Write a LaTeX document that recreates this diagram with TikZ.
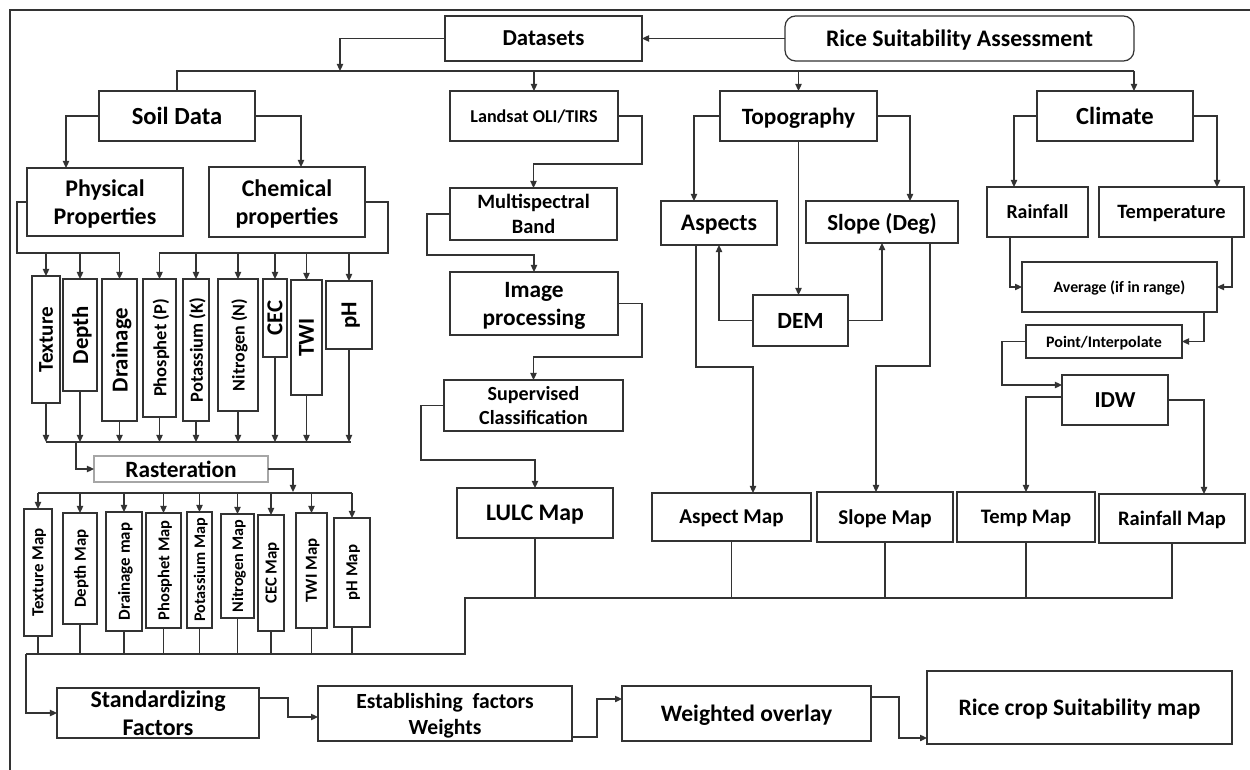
\documentclass[tikz,border=0pt]{standalone}
\usepackage{fontspec}
\setmainfont{Carlito}
\usetikzlibrary{arrows.meta,calc}
\tikzset{
  box/.style={draw=black!80,line width=0.7pt,inner sep=0pt,outer sep=0pt,text=black,text depth=0pt},
  arr/.style={-{Triangle[length=4pt,width=3.6pt]}},
  conn/.style={draw=black!80,line width=0.7pt},
  fs/.style={font=\fontsize{#1pt}{\dimexpr #1pt*6/5\relax}\selectfont\bfseries},
}
% #1 opts, #2 name, #3 x1, #4 y1, #5 x2, #6 y2, #7 text
\newcommand\bx[7][]{%
  \node[box,#1,minimum width={(#5-#3)*0.56906pt},minimum height={(#6-#4)*0.56906pt}]
    (#2) at ({(#3+#5)/2},{(#4+#6)/2}) {#7};}
\newcommand\vb[7][]{%
  \node[box,minimum width={(#5-#3)*0.56906pt},minimum height={(#6-#4)*0.56906pt}]
    (#2) at ({(#3+#5)/2},{(#4+#6)/2}) {};
  \node[rotate=90,inner sep=0pt,text depth=0pt,#1] (#2t) at (#2.center) {#7};}
\begin{document}
\begin{tikzpicture}[x=0.02cm,y=-0.02cm]
\useasboundingbox (0,0) rectangle (1250,770);
\fill[white] (0,0) rectangle (1250,770);
\draw[conn] (10,770) -- (10,10) -- (1250,10);

% top
\bx[fs=13]{ds}{445}{16}{642}{61}{Datasets}
\bx[fs=13.5,rounded corners=6pt]{rsa}{785}{16}{1134}{61}{Rice Suitability Assessment}
\draw[conn,arr] (rsa.west) -- (ds.east);
\coordinate (bT) at (340,71);
\coordinate (bR) at (1134,71);
\draw[conn,arr] (ds.west) -| (bT);

% level 1
\bx[fs=14]{soil}{99}{91}{255}{141}{Soil Data}
\bx[fs=10.3]{land}{450}{91}{618}{141}{Landsat OLI/TIRS}
\bx[fs=13.3]{topo}{720}{91}{877}{141}{Topography}
\bx[fs=14]{clim}{1037}{91}{1193}{141}{Climate}
\draw[conn] (soil.north) |- (bR);
\draw[conn,arr] (land.north |- bR) -- (land.north);
\draw[conn,arr] (topo.north |- bR) -- (topo.north);
\draw[conn,arr] (bR) -- (bR |- clim.north);

% soil
\bx[fs=13.6,align=center]{phys}{27}{168}{183}{236}{Physical\\Properties}
\bx[fs=13.6,align=center]{chem}{209}{167}{365}{237}{Chemical\\properties}
\draw[conn,arr] (soil.west) -| (66,0 |- phys.north);
\draw[conn,arr] (soil.east) -| (301,0 |- chem.north);

\vb[fs=12]{tex}{32}{276}{60}{403}{Texture}
\vb[fs=13]{dep}{63}{279}{97}{391}{Depth}
\vb[fs=13]{drn}{102}{279}{137}{421}{Drainage}
\vb[fs=10.5]{pho}{143}{279}{176}{417}{Phosphet (P)}
\vb[fs=10.5]{pot}{183}{279}{209}{421}{Potassium (K)}
\vb[fs=10.2]{nit}{218}{279}{258}{411}{Nitrogen (N)}
\vb[fs=13]{cec}{263}{279}{287}{357}{CEC}
\vb[fs=13]{twi}{291}{280}{322}{395}{TWI}
\vb[fs=13]{ph}{326}{281}{372}{349}{pH}

\draw[conn] (phys.west) -| (17,253) -- (120,253);
\foreach \b in {tex,dep,drn} \draw[conn,arr] (\b.north |- 0,253) -- (\b.north);
\draw[conn] (chem.east) -| (388,253) -- (159,253);
\foreach \b in {pho,pot,nit,cec,twi,ph} \draw[conn,arr] (\b.north |- 0,253) -- (\b.north);

\foreach \b in {tex,dep,drn,pho,pot,nit,cec,twi,ph} \draw[conn,arr] (\b.south) -- (\b.south |- 0,442);
\draw[conn] (46,442) -- (351,442);

\bx[fs=13.3,draw=black!35]{rast}{94}{456}{268}{482}{Rasteration}
\draw[conn,arr] (76,442) |- (rast.west);
\coordinate (bM) at (293,492);
\draw[conn,arr] (rast.east) -| (bM);
\draw[conn] (38,493) -- (352,493);

\vb[fs=9.6]{texm}{24}{509}{52}{636}{Texture Map}
\vb[fs=9.6]{depm}{63}{513}{97}{624}{Depth Map}
\vb[fs=9.6]{drnm}{106}{512}{142}{631}{Drainage map}
\vb[fs=9.4]{phom}{146}{513}{181}{628}{Phosphet Map}
\vb[fs=9.2]{potm}{187}{512}{212}{628}{Potassium Map}
\vb[fs=9.2]{nitm}{221}{514}{254}{618}{Nitrogen Map}
\vb[fs=9.6]{cecm}{258}{515}{284}{631}{CEC Map}
\vb[fs=9.6]{twim}{296}{513}{327}{628}{TWI Map}
\vb[fs=9.6]{phm}{334}{518}{370}{627}{pH Map}
\foreach \b in {texm,depm,drnm,phom,potm,nitm,cecm,twim,phm} {
  \draw[conn,arr] (\b.north |- 0,493) -- (\b.north);
  \draw[conn] (\b.south) -- (\b.south |- 0,654);
}

% Landsat column
\bx[fs=11.6,align=center]{msb}{450}{188}{617}{240}{Multispectral\\Band}
\bx[fs=13.3,align=center]{imp}{450}{272}{618}{335}{Image\\processing}
\bx[fs=11.4,align=center]{sup}{444}{380}{623}{431}{Supervised\\Classification}
\bx[fs=13.5]{lulc}{457}{488}{613}{538}{LULC Map}
\draw[conn,arr] (land.east) -| (642,164) -| (msb.north);
\draw[conn,arr] (msb.west) -| (427,255) -| (imp.north);
\draw[conn,arr] (imp.east) -| (642,357) -| (sup.north);
\draw[conn,arr] (sup.west) -| (421,460) -| (lulc.north);

% Topography
\bx[fs=13.5]{asp}{661}{201}{777}{245}{Aspects}
\bx[fs=13.1]{slp}{806}{201}{958}{243}{Slope (Deg)}
\bx[fs=13.2]{dem}{753}{295}{848}{346}{DEM}
\bx[fs=12]{aspm}{652}{493}{811}{541}{Aspect Map}
\bx[fs=12]{slpm}{817}{492}{953}{542}{Slope Map}
\draw[conn,arr] (topo.west) -| (694,0 |- asp.north);
\draw[conn,arr] (topo.south) -- (topo.south |- dem.north);
\draw[conn,arr] (topo.east) -| (910,0 |- slp.north);
\draw[conn,arr] (dem.west) -| (asp.south);
\draw[conn,arr] (dem.east) -| (slp.south);
\draw[conn,arr] (696,0 |- asp.south) |- (753,367) -- (753,0 |- aspm.north);
\draw[conn,arr] (930,0 |- slp.south) |- (876,366) -- (876,0 |- slpm.north);

% Climate
\bx[fs=11.3]{rain}{987}{187}{1088}{237}{Rainfall}
\bx[fs=11.6]{temp}{1099}{187}{1244}{237}{Temperature}
\bx[fs=9]{avg}{1022}{262}{1217}{312}{Average (if in range)}
\bx[fs=9.1]{pti}{1026}{325}{1182}{358}{Point/Interpolate}
\bx[fs=13]{idw}{1062}{375}{1168}{425}{IDW}
\bx[fs=11.7]{tmpm}{957}{492}{1095}{542}{Temp Map}
\bx[fs=11.7]{rfm}{1099}{494}{1245}{543}{Rainfall Map}
\draw[conn,arr] (clim.west) -| (1014,0 |- rain.north);
\draw[conn,arr] (clim.east) -| (1217,0 |- temp.north);
\draw[conn,arr] (1010,0 |- rain.south) |- (avg.west);
\draw[conn,arr] (1232,0 |- temp.south) |- (avg.east);
\draw[conn,arr] (1204,0 |- avg.south) |- (pti.east);
\draw[conn,arr] (pti.west) -| (1002,385) -- (idw.west |- 0,385);
\draw[conn,arr] (idw.west |- 0,397) -| (tmpm.north);
\draw[conn,arr] (idw.east) -| (1204,0 |- rfm.north);

% collecting bus
\draw[conn] (rfm.south) |- (465,598) |- (26,654);
\foreach \b in {lulc,aspm,slpm,tmpm} \draw[conn] (\b.south) -- (\b.south |- 0,598);

% bottom row
\bx[fs=13.6,align=center]{stdz}{57}{688}{259}{738}{Standardizing\\Factors}
\bx[fs=12.3,align=center]{estb}{318}{686}{572}{741}{Establishing\hspace{0.45em}factors\\Weights}
\bx[fs=13.4]{wov}{622}{686}{871}{741}{Weighted overlay}
\bx[fs=13.4]{rcsm}{927}{671}{1232}{744}{Rice crop Suitability map}
\draw[conn,arr] (26,654) |- (stdz.west);
\draw[conn,arr] (stdz.east |- 0,698) -| (288,717) -- (estb.west |- 0,717);
\draw[conn,arr] (estb.east |- 0,737) -| (597,699) -- (wov.west |- 0,699);
\draw[conn,arr] (wov.east |- 0,697) -| (899,738) -- (rcsm.west |- 0,738);
\end{tikzpicture}
\end{document}
